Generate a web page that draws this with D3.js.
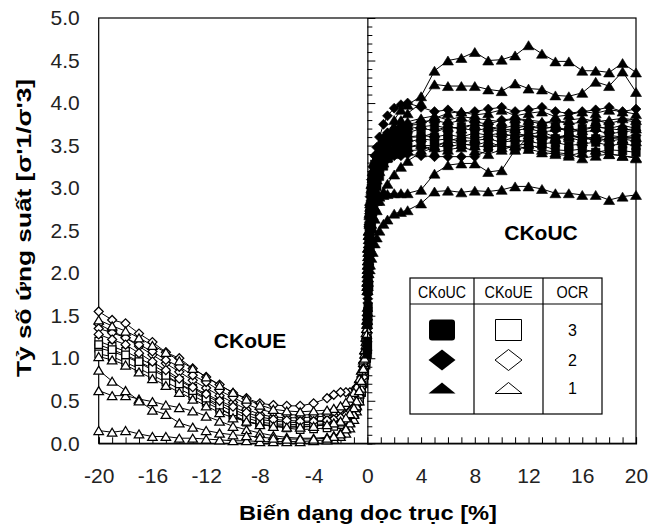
<!DOCTYPE html>
<html>
<head>
<meta charset="utf-8">
<script src="https://cdn.jsdelivr.net/npm/d3@7"></script>
<style>
  html, body { margin: 0; padding: 0; background: #fff; }
  svg { display: block; }
  text { font-family: "Liberation Sans", Arial, sans-serif; }
</style>
</head>
<body>
<svg id="chart" width="648" height="529"></svg>
<script>
// ---------------- DATA ----------------
const xTickLabels = [-20, -16, -12, -8, -4, 0, 4, 8, 12, 16, 20];
const yTickLabels = [0.0, 0.5, 1.0, 1.5, 2.0, 2.5, 3.0, 3.5, 4.0, 4.5, 5.0];

// axial strain grid for compression (CKoUC) tests [%]
const xCompression = [0, 0.03, 0.06, 0.1, 0.15, 0.2, 0.3, 0.4, 0.55, 0.7, 0.9, 1.2, 1.5, 2, 2.5, 3,
  4, 5, 6, 7, 8, 9, 10, 11, 12, 13, 14, 15, 16, 17, 18, 19, 20];
// axial strain grid for extension (CKoUE) tests [%]
const xExtension = [0, -0.05, -0.1, -0.2, -0.3, -0.45, -0.6, -0.8, -1, -1.3, -1.6, -2, -2.5, -3,
  -4, -5, -6, -7, -8, -9, -10, -11, -12, -13, -14, -15, -16, -17, -18, -19, -20];

// CKoUC, OCR = 1 (filled triangles)
const ucOcr1a = [2.0, 2.15, 2.3, 2.45, 2.6, 2.72, 2.88, 3.0, 3.12, 3.22, 3.35, 3.5, 3.62, 3.8, 3.92, 3.98,
  4.08, 4.38, 4.5, 4.53, 4.6, 4.5, 4.51, 4.56, 4.68, 4.58, 4.49, 4.49, 4.38, 4.38, 4.36, 4.47, 4.36];
const ucOcr1b = [1.9, 2.05, 2.2, 2.35, 2.5, 2.62, 2.8, 2.92, 3.05, 3.15, 3.28, 3.45, 3.58, 3.72, 3.8, 3.88,
  4.0, 4.22, 4.2, 4.2, 4.2, 4.16, 4.14, 4.23, 4.17, 4.16, 4.09, 4.08, 4.12, 4.25, 4.2, 4.37, 4.13];
const ucOcr1c = [1.85, 1.9, 1.95, 2.0, 2.05, 2.1, 2.18, 2.25, 2.35, 2.42, 2.5, 2.58, 2.63, 2.7, 2.72, 2.74,
  2.82, 2.96, 2.97, 2.95, 2.97, 2.96, 2.98, 3.02, 3.02, 2.99, 2.94, 2.94, 2.92, 2.92, 2.86, 2.9, 2.92];
const ucOcr1d = [1.95, 2.05, 2.15, 2.25, 2.35, 2.45, 2.58, 2.68, 2.78, 2.85, 2.9, 2.92, 2.93, 2.94, 2.94, 2.94,
  2.98, 3.17, 3.27, 3.29, 3.29, 3.19, 3.21, 3.45, 3.6, 3.62, 3.58, 3.6, 3.55, 3.62, 3.6, 3.58, 3.55];
const ucOcr1e = [1.9, 2.1, 2.3, 2.5, 2.7, 2.85, 3.05, 3.2, 3.32, 3.42, 3.52, 3.6, 3.65, 3.7, 3.72, 3.74,
  3.75, 3.82, 3.88, 3.9, 3.86, 3.88, 3.92, 3.85, 3.88, 3.9, 3.84, 3.86, 3.9, 3.88, 3.92, 3.9, 3.87];
const ucOcr1f = [1.8, 2.0, 2.2, 2.4, 2.58, 2.72, 2.9, 3.02, 3.12, 3.2, 3.28, 3.35, 3.38, 3.4, 3.42, 3.44,
  3.45, 3.5, 3.55, 3.52, 3.5, 3.55, 3.48, 3.5, 3.52, 3.45, 3.42, 3.4, 3.35, 3.38, 3.4, 3.38, 3.35];
const ucOcr1g = [1.85, 2.05, 2.25, 2.45, 2.62, 2.78, 2.98, 3.12, 3.25, 3.35, 3.45, 3.52, 3.56, 3.58, 3.59, 3.6,
  3.6, 3.65, 3.72, 3.7, 3.75, 3.72, 3.68, 3.7, 3.74, 3.7, 3.72, 3.66, 3.68, 3.72, 3.7, 3.74, 3.7];
const ucOcr1h = [1.8, 1.9, 2.0, 2.1, 2.2, 2.3, 2.42, 2.52, 2.64, 2.74, 2.85, 2.96, 3.05, 3.16, 3.25, 3.32,
  3.42, 3.48, 3.55, 3.6, 3.58, 3.62, 3.65, 3.6, 3.63, 3.66, 3.6, 3.62, 3.58, 3.6, 3.55, 3.58, 3.6];
const ucOcr1i = [1.9, 2.1, 2.3, 2.5, 2.68, 2.82, 3.0, 3.12, 3.25, 3.35, 3.45, 3.55, 3.62, 3.7, 3.75, 3.78,
  3.82, 3.85, 3.8, 3.84, 3.82, 3.8, 3.78, 3.82, 3.8, 3.78, 3.76, 3.8, 3.82, 3.78, 3.8, 3.82, 3.8];
const ucOcr1j = [1.85, 2.0, 2.15, 2.3, 2.45, 2.58, 2.75, 2.88, 3.0, 3.1, 3.2, 3.3, 3.36, 3.42, 3.45, 3.48,
  3.52, 3.42, 3.45, 3.48, 3.44, 3.4, 3.45, 3.5, 3.46, 3.42, 3.4, 3.38, 3.42, 3.45, 3.4, 3.38, 3.36];
// CKoUC, OCR = 2 (filled diamonds)
const ucOcr2a = [1.5, 1.8, 2.1, 2.4, 2.7, 2.9, 3.1, 3.25, 3.38, 3.48, 3.6, 3.75, 3.85, 3.94, 3.98, 4.0,
  3.95, 3.9, 3.92, 3.88, 3.9, 3.93, 3.95, 3.9, 3.92, 3.95, 3.9, 3.88, 3.9, 3.92, 3.95, 3.9, 3.93];
const ucOcr2b = [1.4, 1.7, 2.0, 2.3, 2.55, 2.72, 2.9, 3.02, 3.12, 3.2, 3.28, 3.33, 3.35, 3.38, 3.38, 3.4,
  3.38, 3.37, 3.37, 3.37, 3.37, 3.45, 3.55, 3.6, 3.62, 3.58, 3.6, 3.62, 3.6, 3.55, 3.58, 3.6, 3.62];
const ucOcr2c = [1.45, 1.75, 2.05, 2.35, 2.6, 2.8, 3.0, 3.15, 3.28, 3.38, 3.48, 3.58, 3.65, 3.7, 3.72, 3.75,
  3.78, 3.8, 3.76, 3.8, 3.78, 3.75, 3.8, 3.82, 3.78, 3.76, 3.8, 3.75, 3.78, 3.8, 3.76, 3.8, 3.78];
const ucOcr2d = [1.5, 1.65, 1.8, 2.0, 2.2, 2.38, 2.6, 2.78, 2.95, 3.08, 3.2, 3.32, 3.42, 3.52, 3.6, 3.65,
  3.7, 3.68, 3.72, 3.7, 3.68, 3.7, 3.66, 3.68, 3.7, 3.66, 3.68, 3.7, 3.66, 3.68, 3.64, 3.66, 3.68];
// CKoUC, OCR = 3 (filled squares)
const ucOcr3a = [1.1, 1.5, 1.85, 2.2, 2.5, 2.7, 2.95, 3.1, 3.22, 3.3, 3.38, 3.45, 3.5, 3.55, 3.58, 3.6,
  3.62, 3.6, 3.63, 3.6, 3.65, 3.62, 3.6, 3.64, 3.62, 3.6, 3.58, 3.62, 3.6, 3.58, 3.62, 3.6, 3.58];
const ucOcr3b = [1.15, 1.55, 1.9, 2.25, 2.55, 2.75, 3.0, 3.15, 3.28, 3.36, 3.44, 3.52, 3.58, 3.64, 3.68, 3.7,
  3.72, 3.74, 3.7, 3.72, 3.75, 3.72, 3.7, 3.74, 3.72, 3.7, 3.72, 3.68, 3.7, 3.72, 3.7, 3.68, 3.7];
const ucOcr3c = [1.05, 1.45, 1.8, 2.1, 2.4, 2.6, 2.85, 3.0, 3.1, 3.18, 3.25, 3.32, 3.38, 3.42, 3.45, 3.48,
  3.5, 3.5, 3.48, 3.52, 3.5, 3.48, 3.5, 3.46, 3.48, 3.5, 3.45, 3.44, 3.46, 3.42, 3.45, 3.44, 3.42];
const ucOcr3d = [1.2, 1.4, 1.6, 1.85, 2.1, 2.3, 2.55, 2.72, 2.9, 3.02, 3.14, 3.26, 3.35, 3.44, 3.5, 3.54,
  3.58, 3.56, 3.58, 3.55, 3.56, 3.58, 3.54, 3.56, 3.55, 3.52, 3.54, 3.5, 3.52, 3.54, 3.5, 3.52, 3.5];

// CKoUE, OCR = 3 (open squares)
const ueOcr3a = [1.1, 1.0, 0.92, 0.8, 0.7, 0.6, 0.52, 0.45, 0.4, 0.34, 0.3, 0.27, 0.24, 0.22, 0.2, 0.2,
  0.2, 0.21, 0.22, 0.25, 0.32, 0.42, 0.52, 0.6, 0.7, 0.78, 0.86, 0.95, 1.02, 1.08, 1.12];
const ueOcr3b = [1.2, 1.1, 1.0, 0.88, 0.76, 0.65, 0.56, 0.48, 0.42, 0.36, 0.32, 0.29, 0.27, 0.26, 0.25, 0.24,
  0.25, 0.26, 0.28, 0.33, 0.4, 0.48, 0.56, 0.65, 0.74, 0.83, 0.92, 1.0, 1.08, 1.14, 1.2];
const ueOcr3c = [1.15, 1.05, 0.95, 0.82, 0.72, 0.6, 0.5, 0.42, 0.36, 0.3, 0.26, 0.22, 0.2, 0.18, 0.17, 0.16,
  0.18, 0.2, 0.22, 0.26, 0.33, 0.4, 0.48, 0.56, 0.64, 0.72, 0.8, 0.88, 0.95, 1.02, 1.05];
const ueOcr3d = [1.25, 1.12, 1.0, 0.85, 0.72, 0.6, 0.5, 0.42, 0.36, 0.3, 0.27, 0.25, 0.24, 0.23, 0.22, 0.22,
  0.22, 0.23, 0.25, 0.3, 0.37, 0.45, 0.53, 0.62, 0.7, 0.8, 0.88, 0.96, 1.04, 1.1, 1.16];
// CKoUE, OCR = 2 (open diamonds)
const ueOcr2a = [1.4, 1.3, 1.2, 1.05, 0.95, 0.82, 0.72, 0.66, 0.62, 0.6, 0.6, 0.6, 0.57, 0.53, 0.47, 0.44,
  0.44, 0.45, 0.47, 0.53, 0.59, 0.69, 0.78, 0.88, 1.0, 1.07, 1.19, 1.29, 1.41, 1.45, 1.55];
const ueOcr2b = [1.3, 1.2, 1.1, 0.95, 0.85, 0.72, 0.62, 0.54, 0.48, 0.42, 0.38, 0.35, 0.33, 0.32, 0.31, 0.3,
  0.3, 0.31, 0.34, 0.4, 0.48, 0.56, 0.65, 0.74, 0.84, 0.94, 1.04, 1.14, 1.24, 1.32, 1.4];
const ueOcr2c = [1.35, 1.25, 1.15, 1.0, 0.9, 0.78, 0.68, 0.6, 0.54, 0.48, 0.44, 0.4, 0.37, 0.35, 0.34, 0.33,
  0.34, 0.36, 0.4, 0.46, 0.54, 0.62, 0.72, 0.8, 0.9, 0.98, 1.08, 1.16, 1.24, 1.3, 1.35];
const ueOcr2d = [1.3, 1.18, 1.06, 0.9, 0.78, 0.66, 0.56, 0.48, 0.42, 0.37, 0.33, 0.3, 0.28, 0.27, 0.26, 0.26,
  0.27, 0.28, 0.31, 0.36, 0.43, 0.5, 0.58, 0.66, 0.76, 0.86, 0.96, 1.06, 1.16, 1.22, 1.28];
// CKoUE, OCR = 1 (open triangles)
const ueOcr1a = [1.5, 1.35, 1.2, 1.0, 0.85, 0.65, 0.5, 0.38, 0.28, 0.18, 0.12, 0.08, 0.05, 0.04, 0.03, 0.02,
  0.02, 0.02, 0.02, 0.03, 0.03, 0.04, 0.05, 0.06, 0.06, 0.08, 0.08, 0.11, 0.15, 0.13, 0.15];
const ueOcr1b = [1.6, 1.45, 1.3, 1.1, 0.95, 0.75, 0.6, 0.45, 0.35, 0.25, 0.18, 0.12, 0.09, 0.07, 0.06, 0.06,
  0.07, 0.09, 0.12, 0.16, 0.2, 0.26, 0.32, 0.38, 0.42, 0.45, 0.49, 0.52, 0.56, 0.56, 0.62];
const ueOcr1c = [1.55, 1.4, 1.25, 1.05, 0.9, 0.72, 0.58, 0.44, 0.34, 0.24, 0.17, 0.11, 0.08, 0.06, 0.05, 0.05,
  0.05, 0.06, 0.07, 0.09, 0.1, 0.12, 0.15, 0.19, 0.24, 0.34, 0.39, 0.5, 0.62, 0.73, 0.86];
const ueOcr1d = [1.45, 1.35, 1.25, 1.1, 0.98, 0.86, 0.76, 0.67, 0.6, 0.53, 0.48, 0.44, 0.41, 0.39, 0.38, 0.37,
  0.38, 0.4, 0.45, 0.52, 0.6, 0.68, 0.78, 0.88, 0.97, 1.07, 1.15, 1.24, 1.32, 1.38, 1.45];
const ueOcr1e = [1.4, 1.28, 1.16, 1.0, 0.88, 0.74, 0.62, 0.5, 0.42, 0.35, 0.3, 0.26, 0.24, 0.22, 0.2, 0.19,
  0.19, 0.2, 0.22, 0.26, 0.3, 0.36, 0.44, 0.52, 0.6, 0.68, 0.76, 0.84, 0.92, 0.98, 1.02];

// legend rows
const legendHeaders = ["CKoUC", "CKoUE", "OCR"];
const legendOcr = ["3", "2", "1"];
const legendShapes = ["square", "diamond", "triangle"];

// ---------------- CHART ----------------
const svg = d3.select("#chart");
const plot = { left: 98.7, right: 636, top: 18, bottom: 443.3 };

const x = d3.scaleLinear().domain([-20, 20]).range([plot.left, plot.right]);
const y = d3.scaleLinear().domain([0, 5]).range([plot.bottom, plot.top]);

const compression = [
  { v: ucOcr3a, s: "square" }, { v: ucOcr3b, s: "square" }, { v: ucOcr3c, s: "square" }, { v: ucOcr3d, s: "square" },
  { v: ucOcr2a, s: "diamond" }, { v: ucOcr2b, s: "diamond" }, { v: ucOcr2c, s: "diamond" }, { v: ucOcr2d, s: "diamond" },
  { v: ucOcr1f, s: "triangle" }, { v: ucOcr1g, s: "triangle" }, { v: ucOcr1e, s: "triangle" },
  { v: ucOcr1h, s: "triangle" }, { v: ucOcr1i, s: "triangle" }, { v: ucOcr1j, s: "triangle" },
  { v: ucOcr1c, s: "triangle" }, { v: ucOcr1d, s: "triangle" }, { v: ucOcr1b, s: "triangle" },
  { v: ucOcr1a, s: "triangle" }
].map(d => ({ shape: d.s, filled: true, pts: xCompression.map((xx, i) => [xx, d.v[i]]) }));

const extension = [
  { v: ueOcr3a, s: "square" }, { v: ueOcr3b, s: "square" }, { v: ueOcr3c, s: "square" }, { v: ueOcr3d, s: "square" },
  { v: ueOcr2a, s: "diamond" }, { v: ueOcr2b, s: "diamond" }, { v: ueOcr2c, s: "diamond" }, { v: ueOcr2d, s: "diamond" },
  { v: ueOcr1a, s: "triangle" }, { v: ueOcr1b, s: "triangle" }, { v: ueOcr1c, s: "triangle" },
  { v: ueOcr1d, s: "triangle" }, { v: ueOcr1e, s: "triangle" }
].map(d => ({ shape: d.s, filled: false, pts: xExtension.map((xx, i) => [xx, d.v[i]]) }));

function shapePath(shape, w, h) {
  const a = w / 2, b = h / 2;
  if (shape === "square") return `M${-a},${-b}H${a}V${b}H${-a}Z`;
  if (shape === "diamond") return `M0,${-b}L${a},0L0,${b}L${-a},0Z`;
  return `M0,${-b}L${a},${b}H${-a}Z`;
}
const markerSize = { square: [8.5, 8.5], diamond: [10, 10], triangle: [11, 9] };
const openSize = { square: [7.5, 7.5], diamond: [9, 9], triangle: [9.5, 8] };

const line = d3.line().x(d => x(d[0])).y(d => y(d[1]));
const fontFam = "Liberation Sans, Arial, sans-serif";

// frame
svg.append("rect")
  .attr("x", plot.left).attr("y", plot.top)
  .attr("width", plot.right - plot.left).attr("height", plot.bottom - plot.top)
  .attr("fill", "none").attr("stroke", "#000").attr("stroke-width", 1.2);

// bottom axis (ticks inside, every 1 %)
const xAxis = d3.axisBottom(x)
  .tickValues(d3.range(-20, 21, 1))
  .tickSize(-6)
  .tickPadding(25)
  .tickFormat(d => xTickLabels.includes(d) ? String(d) : "");
const gx = svg.append("g").attr("transform", `translate(0,${plot.bottom})`).call(xAxis);
gx.select(".domain").attr("stroke", "#000").attr("stroke-width", 1.2);
gx.selectAll(".tick line").attr("stroke", "#000");
gx.selectAll(".tick text")
  .attr("font-size", 21).attr("fill", "#222")
  .style("font-family", fontFam);

// left axis labels (no tick marks)
const yAxis = d3.axisLeft(y)
  .tickValues(yTickLabels)
  .tickSize(0)
  .tickPadding(19)
  .tickFormat(d3.format(".1f"));
const gy = svg.append("g").attr("transform", `translate(${plot.left},0)`).call(yAxis);
gy.select(".domain").remove();
gy.selectAll(".tick text")
  .attr("font-size", 21).attr("fill", "#222")
  .style("font-family", fontFam);

// zero line with ticks on the right
const zAxis = d3.axisRight(y)
  .tickValues(d3.range(0, 51, 1).map(v => v / 10))
  .tickSize(5)
  .tickFormat("");
const gz = svg.append("g").attr("transform", `translate(${x(0)},0)`).call(zAxis);
gz.select(".domain").attr("stroke", "#000").attr("stroke-width", 1.2);
gz.selectAll(".tick line").attr("stroke", "#000")
  .attr("x2", d => (Math.round(d * 10) % 5 === 0 ? 8 : 5));

// series
function drawSeries(list) {
  list.forEach(s => {
    const g = svg.append("g");
    g.append("path").datum(s.pts).attr("d", line)
      .attr("fill", "none").attr("stroke", "#000").attr("stroke-width", 1);
    const sz = s.filled ? markerSize[s.shape] : openSize[s.shape];
    g.selectAll("path.m").data(s.pts).join("path").attr("class", "m")
      .attr("transform", d => `translate(${x(d[0])},${y(d[1])})`)
      .attr("d", shapePath(s.shape, sz[0], sz[1]))
      .attr("fill", s.filled ? "#000" : "#fff")
      .attr("stroke", "#000").attr("stroke-width", s.filled ? 0.6 : 1.25);
  });
}
drawSeries(extension);
drawSeries(compression);

// region labels
svg.append("text").attr("x", 250).attr("y", 340).attr("text-anchor", "middle")
  .attr("dominant-baseline", "central").attr("font-size", 21).attr("font-weight", "bold")
  .text("CKoUE");
svg.append("text").attr("x", 541).attr("y", 232).attr("text-anchor", "middle")
  .attr("dominant-baseline", "central").attr("font-size", 21).attr("font-weight", "bold")
  .text("CKoUC");

// axis titles
svg.append("text").attr("x", 368).attr("y", 512).attr("text-anchor", "middle")
  .attr("dominant-baseline", "central").attr("font-size", 21).attr("font-weight", "bold")
  .attr("textLength", 258).attr("lengthAdjust", "spacingAndGlyphs")
  .text("Biến dạng dọc trục [%]");
svg.append("text").attr("transform", "translate(23,228) rotate(-90)").attr("text-anchor", "middle")
  .attr("dominant-baseline", "central").attr("font-size", 21).attr("font-weight", "bold")
  .attr("textLength", 298).attr("lengthAdjust", "spacingAndGlyphs")
  .text("Tỷ số ứng suất [σ'1/σ'3]");

// legend table
const lg = { left: 410, right: 602, top: 278, bottom: 414, head: 304, c1: 474, c2: 543 };
const L = svg.append("g");
L.append("rect").attr("x", lg.left).attr("y", lg.top)
  .attr("width", lg.right - lg.left).attr("height", lg.bottom - lg.top)
  .attr("fill", "#fff").attr("stroke", "#000").attr("stroke-width", 1.2);
L.append("line").attr("x1", lg.left).attr("x2", lg.right).attr("y1", lg.head).attr("y2", lg.head)
  .attr("stroke", "#000").attr("stroke-width", 1.2);
[lg.c1, lg.c2].forEach(cx => L.append("line").attr("x1", cx).attr("x2", cx)
  .attr("y1", lg.top).attr("y2", lg.bottom).attr("stroke", "#000").attr("stroke-width", 1.2));
const colCenters = [(lg.left + lg.c1) / 2, (lg.c1 + lg.c2) / 2, (lg.c2 + lg.right) / 2];
legendHeaders.forEach((t, i) => {
  L.append("text").attr("x", colCenters[i]).attr("y", 292).attr("text-anchor", "middle")
    .attr("dominant-baseline", "central").attr("font-size", 16)
    .attr("font-family", "Liberation Sans Narrow, Liberation Sans, Arial, sans-serif")
    .attr("textLength", i === 2 ? 32 : 48).attr("lengthAdjust", "spacingAndGlyphs")
    .text(t);
});
const rowY = [330, 360, 388];
const legSize = { square: [26, 21], diamond: [27, 21], triangle: [27, 11] };
legendShapes.forEach((sh, i) => {
  const sz = legSize[sh];
  if (sh === "square") {
    L.append("rect").attr("x", colCenters[0] - sz[0] / 2).attr("y", rowY[i] - sz[1] / 2)
      .attr("width", sz[0]).attr("height", sz[1]).attr("rx", 3).attr("fill", "#000");
  } else {
    L.append("path").attr("transform", `translate(${colCenters[0]},${rowY[i]})`)
      .attr("d", shapePath(sh, sz[0], sz[1])).attr("fill", "#000");
  }
  L.append("path").attr("transform", `translate(${colCenters[1]},${rowY[i]})`)
    .attr("d", shapePath(sh, sz[0], sz[1]))
    .attr("fill", "#fff").attr("stroke", "#000").attr("stroke-width", 1);
  L.append("text").attr("x", colCenters[2]).attr("y", rowY[i]).attr("text-anchor", "middle")
    .attr("dominant-baseline", "central").attr("font-size", 16)
    .attr("font-family", "Liberation Sans Narrow, Liberation Sans, Arial, sans-serif")
    .text(legendOcr[i]);
});
</script>
</body>
</html>
